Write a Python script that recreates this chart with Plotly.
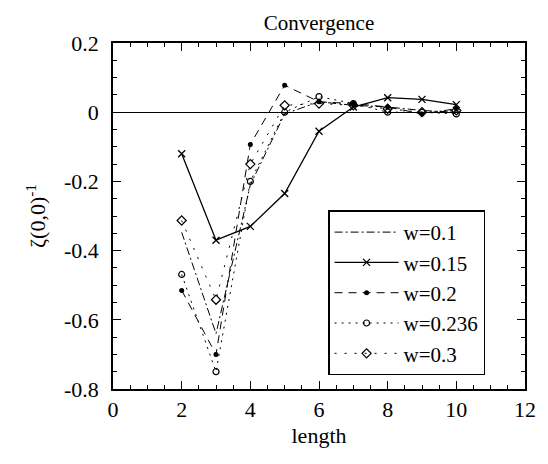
import plotly.graph_objects as go

length = [2, 3, 4, 5, 6, 7, 8, 9, 10]
w_010 = [-0.347, -0.64, -0.21, -0.005, 0.03, 0.02, 0.015, 0.005, 0.0]
w_015 = [-0.12, -0.37, -0.33, -0.235, -0.055, 0.015, 0.042, 0.037, 0.022]
w_020 = [-0.515, -0.70, -0.093, 0.078, 0.03, 0.025, 0.015, -0.005, 0.01]
w_0236 = [-0.469, -0.75, -0.2, 0.0, 0.045, 0.025, 0.0, 0.0, -0.005]
w_030 = [-0.313, -0.542, -0.15, 0.02, 0.025, 0.02, 0.01, 0.0, 0.005]

x_ticks = [0, 2, 4, 6, 8, 10, 12]
x_ticktext = ["0", "2", "4", "6", "8", "10", "12"]
y_ticks = [0.2, 0, -0.2, -0.4, -0.6, -0.8]
y_ticktext = ["0.2", "0", "-0.2", "-0.4", "-0.6", "-0.8"]

FONT = "Liberation Serif"

fig = go.Figure()
fig.add_trace(go.Scatter(x=length, y=w_010, name="w=0.1", mode="lines",
                         line=dict(color="black", width=1, dash="8px,3px,2px,3px")))
fig.add_trace(go.Scatter(x=length, y=w_015, name="w=0.15", mode="lines+markers",
                         line=dict(color="black", width=1.3),
                         marker=dict(symbol="x-thin-open", size=7, color="black",
                                     line=dict(width=1.3, color="black"))))
fig.add_trace(go.Scatter(x=length, y=w_020, name="w=0.2", mode="lines+markers",
                         line=dict(color="black", width=1, dash="8px,6px"),
                         marker=dict(symbol="circle", size=5, color="black")))
fig.add_trace(go.Scatter(x=length, y=w_0236, name="w=0.236", mode="lines+markers",
                         line=dict(color="black", width=1, dash="2px,5px"),
                         marker=dict(symbol="circle-open", size=6, color="black",
                                     line=dict(width=1.2, color="black"))))
fig.add_trace(go.Scatter(x=length, y=w_030, name="w=0.3", mode="lines+markers",
                         line=dict(color="black", width=1, dash="2px,8px"),
                         marker=dict(symbol="diamond-open", size=7, color="black",
                                     line=dict(width=1.2, color="black"))))

# page body has an 8px default margin: size the figure so the plot box lands
# at x 113..536, y 43..392 in the 548x464 window
fig.update_layout(
    width=540, height=448,
    margin=dict(l=105, r=12, t=35, b=64),
    paper_bgcolor="white", plot_bgcolor="white",
    font=dict(family=FONT, size=21, color="black"),
    title=dict(text="Convergence", xref="paper", x=0.5, xanchor="center",
               yref="container", y=0.968, yanchor="middle",
               font=dict(family=FONT, size=21, color="black")),
    showlegend=True,
    legend=dict(x=0.522, y=0.516, xanchor="left", yanchor="top",
                bordercolor="black", borderwidth=1.5, bgcolor="white",
                font=dict(family=FONT, size=21, color="black"),
                itemwidth=64, tracegroupgap=0),
    xaxis=dict(range=[0, 12], tickmode="array", tickvals=x_ticks, ticktext=x_ticktext,
               ticks="inside", ticklen=8, tickwidth=1.3, tickcolor="black",
               minor=dict(ticks="inside", ticklen=4, tickwidth=1.2, tickcolor="black",
                          tickmode="linear", tick0=0, dtick=0.5),
               showline=True, linecolor="black", linewidth=1.5, mirror="allticks",
               showgrid=False, zeroline=False,
               title=dict(text="length", standoff=6, font=dict(family=FONT, size=22)),
               tickfont=dict(family=FONT, size=22)),
    yaxis=dict(range=[-0.8, 0.2], tickmode="array", tickvals=y_ticks, ticktext=y_ticktext,
               ticks="inside", ticklen=8, tickwidth=1.3, tickcolor="black",
               minor=dict(ticks="inside", ticklen=4, tickwidth=1.2, tickcolor="black",
                          tickmode="linear", tick0=0, dtick=0.05),
               showline=True, linecolor="black", linewidth=1.5, mirror="allticks",
               showgrid=False, zeroline=True, zerolinecolor="black", zerolinewidth=1,
               ticklabelstandoff=8,
               title=dict(text="ζ(0,0)<sup>-1</sup>", standoff=12, font=dict(family=FONT, size=22)),
               tickfont=dict(family=FONT, size=22)),
)

fig.write_html("out.html")
